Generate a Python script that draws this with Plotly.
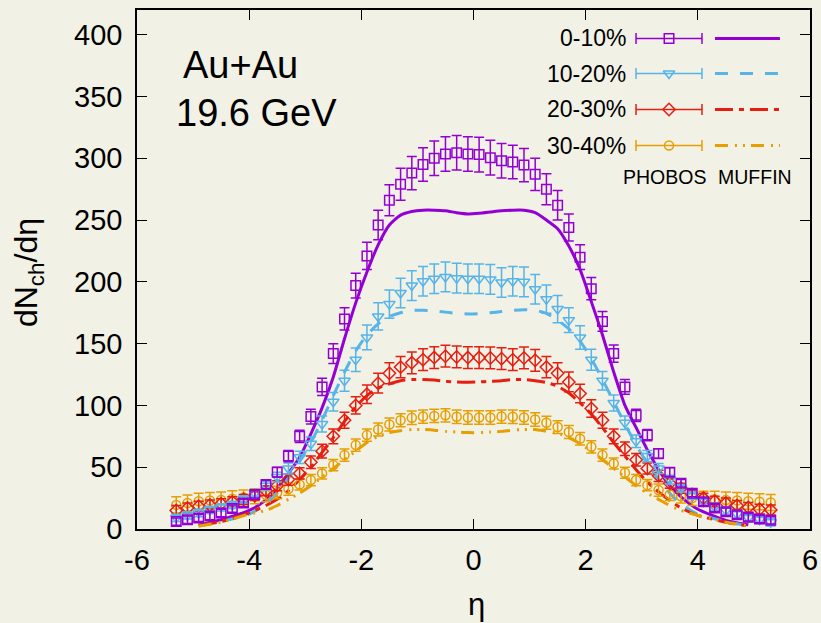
import plotly.graph_objects as go

# ---------------- data ----------------
eta = [-5.3, -5.1, -4.9, -4.7, -4.5, -4.3, -4.1, -3.9, -3.7, -3.5, -3.3, -3.1, -2.9, -2.7,
       -2.5, -2.3, -2.1, -1.9, -1.7, -1.5, -1.3, -1.1, -0.9, -0.7, -0.5, -0.3, -0.1,
       0.1, 0.3, 0.5, 0.7, 0.9, 1.1, 1.3, 1.5, 1.7, 1.9, 2.1, 2.3, 2.5, 2.7,
       2.9, 3.1, 3.3, 3.5, 3.7, 3.9, 4.1, 4.3, 4.5, 4.7, 4.9, 5.1, 5.3]

phobos_0_10 = [6, 7.5, 9, 10.5, 13, 16.5, 21, 28, 36, 46, 59, 75, 91, 115,
               142, 170, 197, 221, 246, 266, 279, 288, 295, 300, 303.5, 304.5, 303.5,
               303, 300.5, 298, 297, 294.5, 287, 275, 262, 244, 220, 194.5, 168, 142, 115,
               92, 76, 61, 46, 37, 29, 22, 17, 14, 11.5, 9.5, 8, 7]
err_0_10 = [3, 3, 3, 3, 3, 3, 3, 3, 3.5, 4, 4.5, 5, 6, 7,
            8, 9, 10, 11, 12, 12.5, 13, 13.5, 13.5, 14, 14, 14, 14,
            14, 14, 14, 13.5, 13.5, 13, 12.5, 12, 11, 10, 9, 8, 7, 6,
            5, 4.5, 4, 3.5, 3, 3, 3, 3, 3, 3, 3, 3, 3]

phobos_10_20 = [9, 11, 13, 15.5, 17.5, 19.5, 24, 29, 35, 42, 49, 58, 69, 85,
                103, 120, 137, 155, 172, 182, 191, 197, 200.5, 202.5, 204, 203, 202.5,
                202.5, 202, 199.5, 200.5, 200, 194, 186, 178, 169, 155, 137, 120, 102, 86,
                71, 59, 49, 40, 33, 27, 22, 18, 15, 12, 9, 7.5, 5.5]
err_10_20 = [3, 3, 3, 3, 3, 3, 3, 3, 3.5, 4, 4.5, 5, 5.5, 6.5,
             7.5, 8.5, 9.5, 10, 11, 11.5, 12, 12, 12, 12, 12, 12, 12,
             12, 12, 12, 12, 12, 12, 11.5, 11, 10, 9.5, 8.5, 7.5, 6.5, 5.5,
             5, 4.5, 4, 3.5, 3, 3, 3, 3, 3, 3, 3, 3, 3]

phobos_20_30 = [15, 17, 18.5, 19.5, 20.5, 22, 24, 27, 31, 35, 40, 45, 54, 63,
                75, 88, 100, 109, 118, 126, 131, 134.5, 137, 138.7, 139.8, 139.2, 138.7,
                138.7, 138.4, 137.8, 137, 138.4, 136.5, 131, 126, 119, 109.6, 97.5, 88, 75, 65,
                56, 49, 43, 37, 33, 28, 25, 22.5, 21, 19, 17.5, 16, 15.4]
err_20_30 = [4, 4, 4, 4, 4, 4, 4, 4, 4, 4, 4.5, 4.5, 5, 5.5,
             6, 6.5, 7, 7.5, 8, 8.5, 8.5, 8.8, 8.8, 8.8, 8.8, 8.8, 8.8,
             8.8, 8.8, 8.8, 8.8, 8.8, 8.8, 8.5, 8.5, 8, 7.5, 7, 6.5, 6, 5.5,
             5, 4.5, 4.5, 4, 4, 4, 4, 4, 4, 4, 4, 4, 4]

phobos_30_40 = [19.5, 21, 22.5, 23, 23.5, 24.5, 25.5, 26.5, 27.5, 29.5, 32.3, 36, 39.6, 45,
                51.7, 59.8, 67.9, 76, 80.5, 84.6, 88, 90, 91, 91.5, 92, 90.8, 90.2,
                90.2, 90.2, 91, 90.8, 90.2, 88.6, 86, 82.5, 78.5, 73, 66.5, 59.8, 53, 45.5,
                39.6, 35.5, 31.5, 28, 26.5, 25, 24.5, 24, 23.5, 23, 22.5, 22, 21.5]
err_30_40 = [6.5, 6.5, 6.5, 6.5, 6.5, 6.5, 6, 6, 5.5, 5, 5, 4.5, 4.5, 4.5,
             4.5, 5, 5, 5, 5.2, 5.2, 5.3, 5.4, 5.4, 5.4, 5.4, 5.4, 5.4,
             5.4, 5.4, 5.4, 5.4, 5.4, 5.4, 5.3, 5.2, 5.2, 5, 5, 5, 4.5, 4.5,
             4.5, 4.5, 5, 5, 5.5, 6, 6, 6.5, 6.5, 6.5, 6.5, 6.5, 6.5]

eta_model = [-4.9, -4.5, -4.0, -3.7, -3.5, -3.3, -3.1, -2.9, -2.7, -2.5, -2.3, -2.1, -1.9,
             -1.7, -1.5, -1.3, -1.1, -0.9, -0.7, -0.5, -0.3, -0.1,
             0.1, 0.3, 0.5, 0.7, 0.9, 1.1, 1.3, 1.5, 1.7, 1.9, 2.1, 2.3, 2.5,
             2.7, 2.9, 3.1, 3.3, 3.5, 3.7, 4.0, 4.5, 4.9]
muffin_0_10 = [3, 7.5, 15, 23.5, 33, 45, 58, 77, 98, 123, 154, 183, 208,
               230, 246, 254, 257, 258, 258, 257.5, 256, 255,
               255.5, 256.5, 257.5, 258, 258, 256, 250, 243, 229, 210, 184, 157, 127,
               100, 82, 64, 48, 35, 26, 16, 7, 3.5]
muffin_10_20 = [2.5, 6, 12, 20, 29, 41, 55, 70, 88, 108, 127, 144, 157,
                166, 172, 175, 177, 177, 176.5, 175.5, 174.5, 174,
                174.2, 175, 176, 177, 177.5, 177, 174.5, 169, 162, 152, 138, 121, 103,
                85, 68, 53, 40, 29, 20, 12, 6, 2.5]
muffin_20_30 = [3, 6, 13, 19, 24, 31, 40, 50, 62, 74, 87, 99, 108,
                114, 117.5, 120, 121, 121, 120.5, 119.5, 119, 118.8,
                119, 119.5, 120, 121, 121, 120, 118.5, 115.5, 110, 102, 93, 82, 70,
                59, 48, 38, 30, 23, 17, 11, 5.5, 2.5]
muffin_30_40 = [2.5, 5.5, 12, 15, 19, 24, 29, 35, 42, 49, 56, 63, 70,
                75, 78, 79.5, 80.5, 80.5, 80, 79, 78.5, 78,
                78, 78.5, 79, 80, 80.5, 80.5, 79, 77.5, 74, 69, 63, 56, 49,
                42, 35, 29, 24, 19, 15, 11, 5.5, 2.5]

labels = ["0-10%", "10-20%", "20-30%", "30-40%"]
colors = ["#9400d3", "#56b4e9", "#e51e10", "#e69f00"]
symbols = ["square-open", "triangle-down-open", "diamond-open", "circle-open"]
msizes = [9.5, 10, 9.5, 9]
dashes = ["solid", "13px,12px", "18px,6px,5px,6px", "13px,7px,2px,6px,2px,6px"]

x_ticks = [-6, -4, -2, 0, 2, 4, 6]
x_ticktext = ["-6", "-4", "-2", "0", "2", "4", "6"]
y_ticks = [0, 50, 100, 150, 200, 250, 300, 350, 400]

phobos = [phobos_0_10, phobos_10_20, phobos_20_30, phobos_30_40]
errs = [err_0_10, err_10_20, err_20_30, err_30_40]
muffin = [muffin_0_10, muffin_10_20, muffin_20_30, muffin_30_40]

BG = "#f2f1e6"
FONT = "Liberation Sans"

fig = go.Figure()

# model curves
for i in range(4):
    fig.add_trace(go.Scatter(
        x=eta_model, y=muffin[i], mode="lines",
        line=dict(color=colors[i], width=3, dash=dashes[i], shape="spline", smoothing=0.6),
        showlegend=False, hoverinfo="skip"))

# data points (peripheral first so central is on top)
for i in [3, 2, 1, 0]:
    fig.add_trace(go.Scatter(
        x=eta, y=phobos[i], mode="markers",
        marker=dict(symbol=symbols[i], size=msizes[i], color=colors[i],
                    line=dict(width=1.5, color=colors[i])),
        error_y=dict(type="data", array=errs[i], color=colors[i], thickness=1.5, width=5),
        showlegend=False, hoverinfo="skip"))

# ---------------- custom legend (overlay axes in [0,1] units) ----------------
leg_rows = [0.9451, 0.8776, 0.8083, 0.7389]
leg_text_x = 0.7296
leg_err_x = 0.7905
leg_err_half = 0.049
leg_line_x = [0.8588, 0.9554]

for i in range(4):
    fig.add_trace(go.Scatter(
        x=[leg_err_x], y=[leg_rows[i]], mode="markers", xaxis="x2", yaxis="y2",
        marker=dict(symbol=symbols[i], size=msizes[i], color=colors[i],
                    line=dict(width=1.5, color=colors[i])),
        error_x=dict(type="data", array=[leg_err_half], color=colors[i], thickness=1.5, width=5.5),
        showlegend=False, hoverinfo="skip"))
    fig.add_trace(go.Scatter(
        x=leg_line_x, y=[leg_rows[i], leg_rows[i]], mode="lines", xaxis="x2", yaxis="y2",
        line=dict(color=colors[i], width=3, dash=dashes[i]),
        showlegend=False, hoverinfo="skip"))
    fig.add_annotation(x=leg_text_x, y=leg_rows[i], xref="paper", yref="paper",
                       text=labels[i], showarrow=False, xanchor="right", yanchor="middle",
                       font=dict(family=FONT, size=23, color="black"))

fig.add_annotation(x=0.7845, y=0.6788, xref="paper", yref="paper", text="PHOBOS",
                   showarrow=False, xanchor="center", yanchor="middle",
                   font=dict(family=FONT, size=19.5, color="black"))
fig.add_annotation(x=0.9183, y=0.6788, xref="paper", yref="paper", text="MUFFIN",
                   showarrow=False, xanchor="center", yanchor="middle",
                   font=dict(family=FONT, size=19.5, color="black"))

fig.add_annotation(x=0.1545, y=0.894, xref="paper", yref="paper", text="Au+Au",
                   showarrow=False, xanchor="center", yanchor="middle",
                   font=dict(family=FONT, size=38, color="black"))
fig.add_annotation(x=0.177, y=0.8015, xref="paper", yref="paper", text="19.6 GeV",
                   showarrow=False, xanchor="center", yanchor="middle",
                   font=dict(family=FONT, size=38, color="black"))

# axis titles
fig.add_annotation(x=0.5045, y=-0.1464, xref="paper", yref="paper", text="η",
                   showarrow=False, xanchor="center", yanchor="middle",
                   font=dict(family=FONT, size=31, color="black"))
fig.add_annotation(x=-0.162, y=0.495, xref="paper", yref="paper", text="dN<sub>ch</sub>/dη",
                   showarrow=False, xanchor="center", yanchor="middle", textangle=-90,
                   font=dict(family=FONT, size=32, color="black"))

fig.update_layout(
    width=821, height=623,
    margin=dict(l=137, r=11, t=10, b=94, autoexpand=False),
    paper_bgcolor=BG, plot_bgcolor=BG,
    font=dict(family=FONT, size=30, color="black"),
    showlegend=False,
    xaxis=dict(range=[-6, 6], tickvals=x_ticks, ticktext=x_ticktext,
               ticks="inside", ticklen=10, tickwidth=1.3, tickcolor="black",
               showline=True, linecolor="black", linewidth=1.5, mirror="ticks",
               showgrid=False, zeroline=False, ticklabelstandoff=4, automargin=False,
               tickfont=dict(family=FONT, size=29)),
    yaxis=dict(range=[0, 420], tickvals=y_ticks,
               ticks="inside", ticklen=10, tickwidth=1.3, tickcolor="black",
               showline=True, linecolor="black", linewidth=1.5, mirror="ticks",
               showgrid=False, zeroline=False, ticklabelstandoff=7, automargin=False,
               tickfont=dict(family=FONT, size=29)),
    xaxis2=dict(overlaying="x", range=[0, 1], visible=False, anchor="y2"),
    yaxis2=dict(overlaying="y", range=[0, 1], visible=False, anchor="x2"),
)

fig.write_html("out.html",
               config={"displayModeBar": False},
               post_script="document.body.style.margin='0';"
                           "document.body.style.background='" + BG + "';")
